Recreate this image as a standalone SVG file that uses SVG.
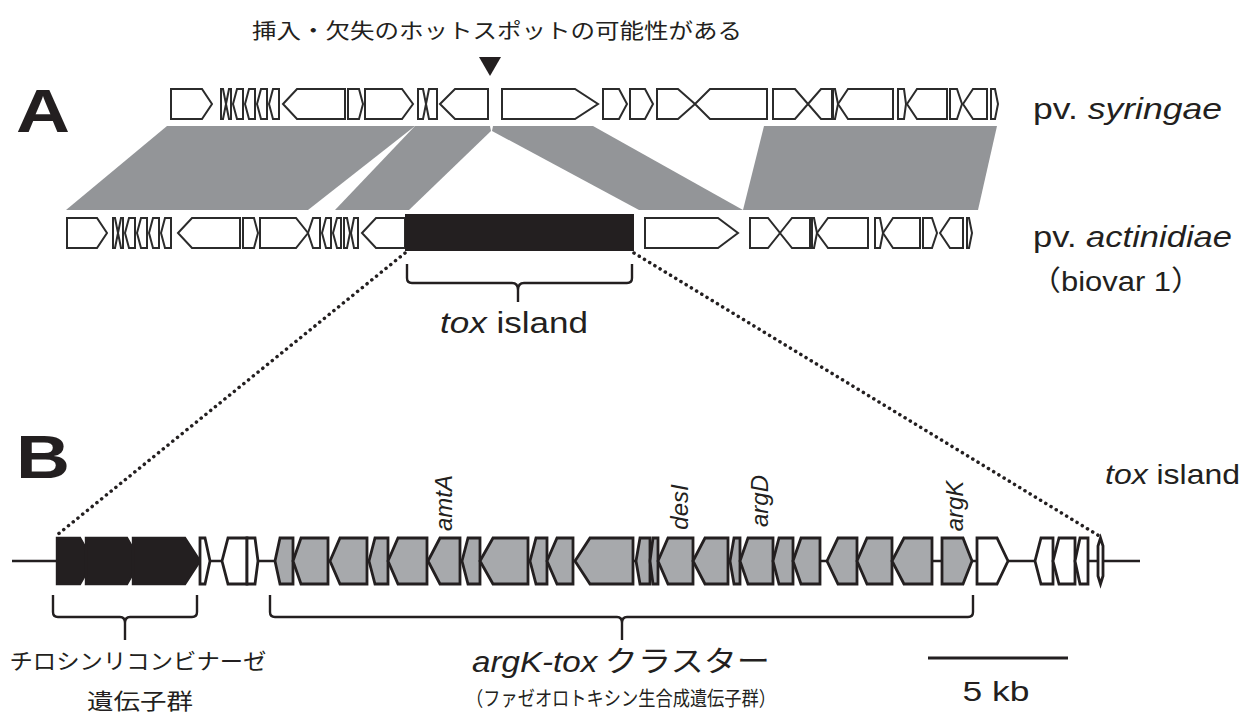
<svg xmlns="http://www.w3.org/2000/svg" width="1253" height="715" viewBox="0 0 1253 715">
<style>
text{font-family:"Liberation Sans","Noto Sans CJK JP",sans-serif;fill:#231f20}
.jp{font-family:"Noto Sans CJK JP","Liberation Sans",sans-serif}
.it{font-style:italic}
.band{fill:#939598}
.ga{fill:#fff;stroke:#2b2b2b;stroke-width:2;stroke-linejoin:miter}
.gb{fill:#a7a9ac;stroke:#231f20;stroke-width:2.8;stroke-linejoin:miter}
.gw{fill:#fff;stroke:#231f20;stroke-width:2.8;stroke-linejoin:miter}
.gk{fill:#231f20;stroke:#231f20;stroke-width:2.4;stroke-linejoin:miter}
.br{fill:none;stroke:#231f20;stroke-width:2.4}
.dot{fill:none;stroke:#231f20;stroke-width:3.5;stroke-dasharray:0.1 6;stroke-linecap:round}
</style>

<g id="connectors">
  <polygon class="band" points="167,126 415,126 308,210 66,210"/>
  <polygon class="band" points="415,126 490,126 491,131 409,210 335,210"/>
  <polygon class="band" points="493,126 593,126 743,210 639,210 492,131"/>
  <polygon class="band" points="764,126 997,126 978,210 743,210"/>
  <line class="dot" x1="405" y1="253" x2="57" y2="535"/>
  <line class="dot" x1="634" y1="253" x2="1101" y2="537"/>
  <line x1="12" y1="561" x2="1140" y2="561" stroke="#231f20" stroke-width="2.6"/>
</g>

<g id="hotspot">
  <text class="jp" x="497" y="38" font-size="21" text-anchor="middle" textLength="490" lengthAdjust="spacingAndGlyphs">挿入・欠失のホットスポットの可能性がある</text>
  <polygon points="479,57 501,57 490,76" fill="#231f20"/>
</g>

<g id="label-A"><text x="16" y="132" font-size="62" font-weight="bold" textLength="54" lengthAdjust="spacingAndGlyphs">A</text></g>
<g id="label-B"><text x="16" y="478" font-size="62" font-weight="bold" textLength="54" lengthAdjust="spacingAndGlyphs">B</text></g>

<g id="row-syringae">
  <polygon class="ga" points="171,89 202,89 212,104 202,119 171,119"/>
  <polygon class="ga" points="221,89 223,89 226,104 223,119 221,119"/>
  <polygon class="ga" points="226,104 229,89 231,89 231,119 229,119"/>
  <polygon class="ga" points="233,104 237,89 243,89 243,119 237,119"/>
  <polygon class="ga" points="245,104 249,89 255,89 255,119 249,119"/>
  <polygon class="ga" points="257,104 261,89 267,89 267,119 261,119"/>
  <polygon class="ga" points="269,104 273,89 279,89 279,119 273,119"/>
  <polygon class="ga" points="283,104 297,89 345,89 345,119 297,119"/>
  <polygon class="ga" points="348,89 359,89 363,104 359,119 348,119"/>
  <polygon class="ga" points="365,89 402,89 413,104 402,119 365,119"/>
  <polygon class="ga" points="418,89 423,89 426,104 423,119 418,119"/>
  <polygon class="ga" points="426,104 429,89 437,89 437,119 429,119"/>
  <polygon class="ga" points="440,104 455,89 488,89 488,119 455,119"/>
  <polygon class="ga" points="502,89 575,89 598,104 575,119 502,119"/>
  <polygon class="ga" points="603,89 619,89 627,104 619,119 603,119"/>
  <polygon class="ga" points="630,89 645,89 653,104 645,119 630,119"/>
  <polygon class="ga" points="657,89 678,89 695,104 678,119 657,119"/>
  <polygon class="ga" points="695,104 710,89 767,89 767,119 710,119"/>
  <polygon class="ga" points="773,89 795,89 808,104 795,119 773,119"/>
  <polygon class="ga" points="808,104 821,89 832,89 832,119 821,119"/>
  <polygon class="ga" points="833,89 835,89 838,104 835,119 833,119"/>
  <polygon class="ga" points="838,104 848,89 893,89 893,119 848,119"/>
  <polygon class="ga" points="898,89 904,89 906,104 904,119 898,119"/>
  <polygon class="ga" points="907,104 917,89 947,89 947,119 917,119"/>
  <polygon class="ga" points="950,89 957,89 962,104 957,119 950,119"/>
  <polygon class="ga" points="963,104 973,89 987,89 987,119 973,119"/>
  <polygon class="ga" points="991,89 995,89 998,104 995,119 991,119"/>
</g>

<g id="row-actinidiae">
  <polygon class="ga" points="67,218 97,218 107,233 97,248 67,248"/>
  <polygon class="ga" points="113,218 115,218 118,233 115,248 113,248"/>
  <polygon class="ga" points="118,233 121,218 123,218 123,248 121,248"/>
  <polygon class="ga" points="125,233 129,218 135,218 135,248 129,248"/>
  <polygon class="ga" points="137,233 141,218 147,218 147,248 141,248"/>
  <polygon class="ga" points="149,233 153,218 159,218 159,248 153,248"/>
  <polygon class="ga" points="161,233 165,218 171,218 171,248 165,248"/>
  <polygon class="ga" points="178,233 192,218 240,218 240,248 192,248"/>
  <polygon class="ga" points="243,218 254,218 258,233 254,248 243,248"/>
  <polygon class="ga" points="260,218 296,218 308,233 296,248 260,248"/>
  <polygon class="ga" points="308,233 313,218 320,218 320,248 313,248"/>
  <polygon class="ga" points="322,233 326,218 331,218 331,248 326,248"/>
  <polygon class="ga" points="333,233 337,218 341,218 341,248 337,248"/>
  <polygon class="ga" points="344,218 347,218 350,233 347,248 344,248"/>
  <polygon class="ga" points="351,233 354,218 358,218 358,248 354,248"/>
  <polygon class="ga" points="362,233 376,218 405,218 405,248 376,248"/>
  <rect id="tox-island-A" x="405" y="214" width="229" height="37" fill="#231f20"/>
  <polygon class="ga" points="645,218 718,218 738,233 718,248 645,248"/>
  <polygon class="ga" points="750,218 768,218 780,233 768,248 750,248"/>
  <polygon class="ga" points="780,233 792,218 810,218 810,248 792,248"/>
  <polygon class="ga" points="812,218 814,218 817,233 814,248 812,248"/>
  <polygon class="ga" points="817,233 828,218 868,218 868,248 828,248"/>
  <polygon class="ga" points="875,218 880,218 883,233 880,248 875,248"/>
  <polygon class="ga" points="883,233 893,218 920,218 920,248 893,248"/>
  <polygon class="ga" points="923,218 932,218 937,233 932,248 923,248"/>
  <polygon class="ga" points="940,233 950,218 963,218 963,248 950,248"/>
  <polygon class="ga" points="967,218 969,218 972,233 969,248 967,248"/>
</g>

<g id="strain-labels">
  <text x="1033" y="119" font-size="29" textLength="189" lengthAdjust="spacingAndGlyphs">pv. <tspan class="it">syringae</tspan></text>
  <text x="1033" y="247" font-size="29" textLength="199" lengthAdjust="spacingAndGlyphs">pv. <tspan class="it">actinidiae</tspan></text>
  <text x="1030" y="291" font-size="28" textLength="172" lengthAdjust="spacingAndGlyphs"><tspan class="jp">（</tspan>biovar 1<tspan class="jp">）</tspan></text>
</g>

<g id="tox-island-bracket">
  <path class="br" d="M407,264 V278 Q407,283 412,283 H512 Q518,283 518,290 V302 M518,290 Q518,283 524,283 H627 Q632,283 632,278 V264"/>
  <text x="514" y="333" font-size="29" text-anchor="middle" textLength="148" lengthAdjust="spacingAndGlyphs"><tspan class="it">tox</tspan> island</text>
</g>

<g id="label-tox-island-B">
  <text x="1105" y="484" font-size="28" textLength="135" lengthAdjust="spacingAndGlyphs"><tspan class="it">tox</tspan> island</text>
</g>

<g id="row-B">
  <polygon class="gk" points="57,538 80,538 93,561 80,584 57,584"/>
  <polygon class="gk" points="86,538 127,538 140,561 127,584 86,584"/>
  <polygon class="gk" points="133,538 185,538 200,561 185,584 133,584"/>
  <polygon class="gw" points="200,538 205,538 210,561 205,584 200,584"/>
  <polygon class="gw" points="222,561 228,538 247,538 247,584 228,584"/>
  <polygon class="gw" points="247,538 255,538 258,561 255,584 247,584"/>
  <polygon class="gb" points="275,561 280,538 293,538 293,584 280,584"/>
  <polygon class="gb" points="293,561 301,538 328,538 328,584 301,584"/>
  <polygon class="gb" points="330,561 340,538 367,538 367,584 340,584"/>
  <polygon class="gb" points="369,561 375,538 388,538 388,584 375,584"/>
  <polygon class="gb" points="388,561 398,538 427,538 427,584 398,584"/>
  <polygon class="gb" points="428,561 440,538 460,538 460,584 440,584"/>
  <polygon class="gb" points="462,561 468,538 480,538 480,584 468,584"/>
  <polygon class="gb" points="480,561 493,538 528,538 528,584 493,584"/>
  <polygon class="gb" points="530,561 536,538 547,538 547,584 536,584"/>
  <polygon class="gb" points="547,561 557,538 573,538 573,584 557,584"/>
  <polygon class="gb" points="575,561 590,538 633,538 633,584 590,584"/>
  <polygon class="gb" points="636,561 640,538 650,538 650,584 640,584"/>
  <polygon class="gb" points="650,561 653,538 658,538 658,584 653,584"/>
  <polygon class="gb" points="658,561 668,538 693,538 693,584 668,584"/>
  <polygon class="gb" points="693,561 705,538 728,538 728,584 705,584"/>
  <polygon class="gb" points="730,561 734,538 740,538 740,584 734,584"/>
  <polygon class="gb" points="740,561 748,538 773,538 773,584 748,584"/>
  <polygon class="gb" points="773,561 779,538 793,538 793,584 779,584"/>
  <polygon class="gb" points="793,561 801,538 820,538 820,584 801,584"/>
  <polygon class="gb" points="827,561 838,538 857,538 857,584 838,584"/>
  <polygon class="gb" points="857,561 867,538 892,538 892,584 867,584"/>
  <polygon class="gb" points="892,561 904,538 932,538 932,584 904,584"/>
  <polygon class="gb" points="942,538 963,538 972,561 963,584 942,584"/>
  <polygon class="gw" points="977,538 997,538 1008,561 997,584 977,584"/>
  <polygon class="gw" points="1035,561 1041,538 1053,538 1053,584 1041,584"/>
  <polygon class="gw" points="1053,561 1059,538 1075,538 1075,584 1059,584"/>
  <polygon class="gw" points="1075,561 1080,538 1088,538 1088,584 1080,584"/>
  <polygon class="gw" points="1100.5,538 1103,546 1103,576 1100.5,584 1098,576 1098,546"/>
</g>

<g id="gene-labels" font-size="24">
  <text class="it" transform="translate(452,503) rotate(-90)" text-anchor="middle">amtA</text>
  <text class="it" transform="translate(688,507) rotate(-90)" text-anchor="middle">desI</text>
  <text class="it" transform="translate(768,501) rotate(-90)" text-anchor="middle">argD</text>
  <text class="it" transform="translate(963,506) rotate(-90)" text-anchor="middle">argK</text>
</g>

<g id="recombinase-bracket">
  <path class="br" d="M53,595 V612 Q53,617 58,617 H120 Q125,617 125,623 V640 M125,623 Q125,617 130,617 H192 Q197,617 197,612 V595"/>
  <text class="jp" x="138" y="669" font-size="22" text-anchor="middle" textLength="257" lengthAdjust="spacingAndGlyphs">チロシンリコンビナーゼ</text>
  <text class="jp" x="140" y="709" font-size="22" text-anchor="middle" textLength="106" lengthAdjust="spacingAndGlyphs">遺伝子群</text>
</g>

<g id="argk-tox-bracket">
  <path class="br" d="M270,595 V612 Q270,617 275,617 H617 Q622,617 622,623 V640 M622,623 Q622,617 627,617 H968 Q973,617 973,612 V595"/>
  <text x="621" y="672" font-size="29" text-anchor="middle" textLength="298" lengthAdjust="spacingAndGlyphs"><tspan class="it">argK-tox</tspan><tspan class="jp"> クラスター</tspan></text>
  <text class="jp" x="621" y="706" font-size="20" text-anchor="middle" textLength="310" lengthAdjust="spacingAndGlyphs">（ファゼオロトキシン生合成遺伝子群）</text>
</g>

<g id="scale-bar">
  <line x1="928" y1="658" x2="1068" y2="658" stroke="#231f20" stroke-width="3"/>
  <text x="996" y="701" font-size="28" text-anchor="middle" textLength="67" lengthAdjust="spacingAndGlyphs">5 kb</text>
</g>
</svg>
